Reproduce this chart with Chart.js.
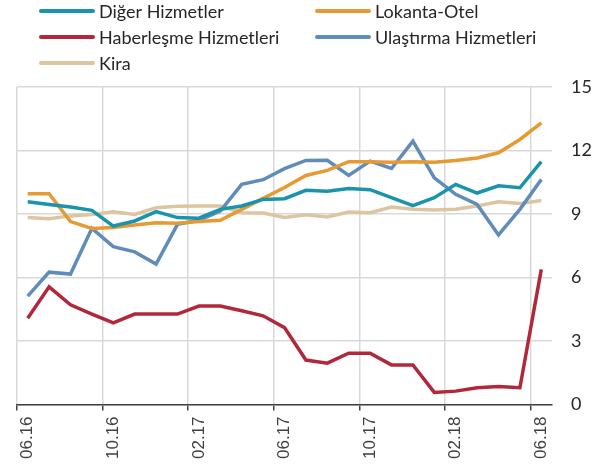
<!DOCTYPE html>
<html>
<head>
<meta charset="utf-8">
<script src="https://cdn.jsdelivr.net/npm/chart.js@4"></script>
<style>
  html, body { margin: 0; padding: 0; background: #fff; }
  #wrap { width: 606px; height: 472px; position: relative; }
</style>
</head>
<body>
<div id="wrap"><canvas id="chart"></canvas></div>
<script>
const months = ['06.16','07.16','08.16','09.16','10.16','11.16','12.16','01.17','02.17','03.17','04.17','05.17',
  '06.17','07.17','08.17','09.17','10.17','11.17','12.17','01.18','02.18','03.18','04.18','05.18','06.18'];

const diger = [9.58, 9.45, 9.33, 9.17, 8.43, 8.67, 9.11, 8.83, 8.80, 9.22, 9.38, 9.69,
  9.72, 10.12, 10.08, 10.20, 10.15, 9.77, 9.39, 9.77, 10.40, 9.99, 10.33, 10.24, 11.47];
const lokanta = [9.96, 9.96, 8.64, 8.32, 8.36, 8.48, 8.59, 8.56, 8.64, 8.70, 9.22, 9.74,
  10.25, 10.82, 11.06, 11.47, 11.47, 11.45, 11.47, 11.45, 11.53, 11.65, 11.89, 12.52, 13.30];
const haberlesme = [4.07, 5.56, 4.71, 4.27, 3.85, 4.27, 4.27, 4.27, 4.65, 4.65, 4.43, 4.19,
  3.63, 2.10, 1.95, 2.42, 2.42, 1.87, 1.87, 0.57, 0.63, 0.79, 0.85, 0.79, 6.38];
const ulastirma = [5.12, 6.25, 6.16, 8.32, 7.46, 7.21, 6.63, 8.51, 8.70, 9.14, 10.40, 10.62,
  11.14, 11.53, 11.54, 10.82, 11.50, 11.15, 12.44, 10.71, 9.93, 9.45, 8.01, 9.22, 10.63];
const kira = [8.83, 8.78, 8.91, 8.98, 9.11, 8.98, 9.30, 9.36, 9.38, 9.38, 9.06, 9.05,
  8.84, 8.96, 8.86, 9.09, 9.06, 9.33, 9.22, 9.19, 9.22, 9.38, 9.58, 9.49, 9.64];

const yTicks = [0, 3, 6, 9, 12, 15];

const GRID = '#d9d9d9';
const AXIS = '#404040';

function series(label, data, color) {
  return { label, data, borderColor: color, backgroundColor: color, borderWidth: 3.5,
    pointRadius: 0, tension: 0, fill: false };
}

// legend in two columns, drawn above the plot
const legendPlugin = {
  id: 'twoColLegend',
  afterDraw(chart) {
    const ctx = chart.ctx;
    const cols = [41, 317], rows = [11, 37, 63];
    ctx.save();
    ctx.font = '18px Lato';
    ctx.textBaseline = 'middle';
    chart.data.datasets.forEach((ds, i) => {
      const x = cols[i % 2], y = rows[Math.floor(i / 2)];
      ctx.strokeStyle = ds.borderColor;
      ctx.lineWidth = 4;
      ctx.lineCap = 'round';
      ctx.beginPath();
      ctx.moveTo(x, y);
      ctx.lineTo(x + 52, y);
      ctx.stroke();
      ctx.fillStyle = '#262626';
      ctx.fillText(ds.label, x + 58, y + 1);
    });
    ctx.restore();
  }
};

new Chart(document.getElementById('chart'), {
  type: 'line',
  data: {
    labels: months,
    datasets: [
      series('Diğer Hizmetler', diger, '#1a94ac'),
      series('Lokanta-Otel', lokanta, '#e59a33'),
      series('Haberleşme Hizmetleri', haberlesme, '#b2283b'),
      series('Ulaştırma Hizmetleri', ulastirma, '#5f8cb8'),
      series('Kira', kira, '#dcc5a0'),
    ]
  },
  plugins: [legendPlugin],
  options: {
    responsive: true,
    maintainAspectRatio: false,
    animation: false,
    layout: { padding: { top: 87, right: 0, bottom: 7, left: 17 } },
    plugins: { legend: { display: false }, tooltip: { enabled: false } },
    scales: {
      x: {
        offset: true,
        grid: {
          offset: true,
          lineWidth: 1.5,
          color: c => c.index % 4 === 0 ? GRID : 'rgba(0,0,0,0)',
          tickColor: c => c.index % 4 === 0 ? AXIS : 'rgba(0,0,0,0)',
          tickLength: 6,
        },
        border: { display: true, color: AXIS, width: 1.5 },
        ticks: {
          autoSkip: false,
          minRotation: 90,
          maxRotation: 90,
          padding: 6,
          color: '#404040',
          font: { family: 'Liberation Sans', size: 17 },
          callback: (v, i) => i % 4 === 0 ? months[i] : '',
        }
      },
      y: {
        position: 'right',
        min: 0,
        max: 15,
        afterBuildTicks: axis => { axis.ticks = yTicks.map(v => ({ value: v })); },
        afterFit: axis => { axis.width = 54; },
        grid: { color: GRID, lineWidth: 1.5, drawTicks: false },
        border: { display: false },
        ticks: {
          padding: 19,
          color: '#262626',
          font: { family: 'Lato', size: 18 },
        }
      }
    }
  }
});
</script>
</body>
</html>
